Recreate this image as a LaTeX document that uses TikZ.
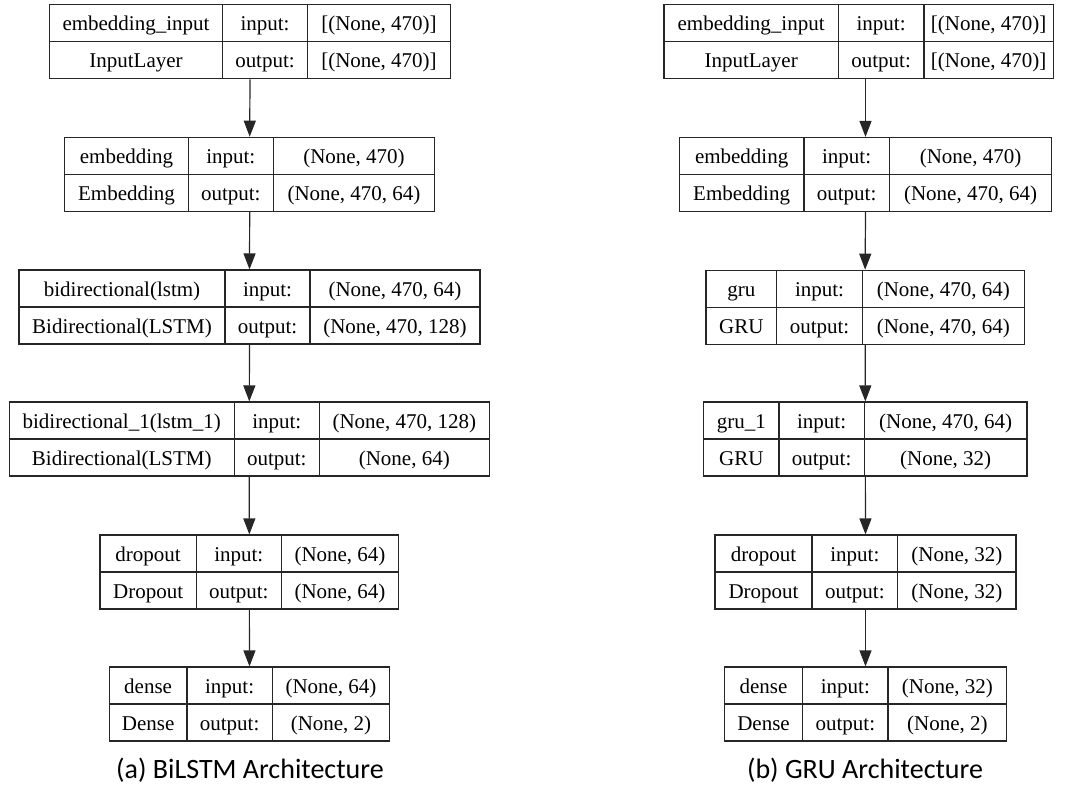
\documentclass[tikz,border=0pt]{standalone}
\usepackage{fontspec}
\setmainfont{Liberation Serif}
\newfontfamily\capfont{Carlito}
\usetikzlibrary{arrows.meta}

\tikzset{
  layerbox/.style={draw=black!85, line width=1.2pt, inner sep=0pt, minimum height=74pt},
  layerline/.style={draw=black!85, line width=1.2pt},
  cell/.style={inner sep=0pt, text height=15pt, text depth=0pt, font=\fontsize{21}{24}\selectfont},
  flow/.style={-{Triangle[length=16pt,width=12pt]}, line width=1.2pt, black!85},
  caption/.style={anchor=base, font=\capfont\fontsize{28}{32}\selectfont}
}

% layer frame: name, left, divider 1, divider 2, right, top
\newcommand{\layerframe}[6]{%
  \node[layerbox, minimum width={(#5-#2)*1pt}] (#1) at ({(#2+#5)/2},{#6+37}) {};
  \draw[layerline] (#1.west) -- (#1.east);
  \draw[layerline] (#3,#6) -- (#3,#6+74);
  \draw[layerline] (#4,#6) -- (#4,#6+74);
  \coordinate (#1-c1) at ({(#2+#3)/2},{#6+18.5});
  \coordinate (#1-c2) at ({(#3+#4)/2},{#6+18.5});
  \coordinate (#1-c3) at ({(#4+#5)/2},{#6+18.5});
}
% layer text: name, layer, class, input shape, output shape
\newcommand{\layertext}[5]{%
  \node[cell] (#1-name)   at (#1-c1) {#2};
  \node[cell] (#1-class)  at ([yshift=-37pt]#1-c1) {#3};
  \node[cell] (#1-inkey)  at (#1-c2) {input:};
  \node[cell] (#1-outkey) at ([yshift=-37pt]#1-c2) {output:};
  \node[cell] (#1-in)     at (#1-c3) {#4};
  \node[cell] (#1-out)    at ([yshift=-37pt]#1-c3) {#5};
}

\begin{document}
\begin{tikzpicture}[x=1pt, y=-1pt]
  \useasboundingbox (0,0) rectangle (1077,787);

  % (a) BiLSTM
  \layerframe{A1}{49.3}{222.7}{307.3}{450.7}{4.7}
  \layertext{A1}{embedding\_input}{InputLayer}{[(None, 470)]}{[(None, 470)]}
  \layerframe{A2}{64.7}{188.3}{273.3}{434.7}{137.3}
  \layertext{A2}{embedding}{Embedding}{(None, 470)}{(None, 470, 64)}
  \layerframe{A3}{19}{225}{310}{480}{270}
  \layertext{A3}{bidirectional(lstm)}{Bidirectional(LSTM)}{(None, 470, 64)}{(None, 470, 128)}
  \layerframe{A4}{9.3}{234.3}{319.3}{489.3}{402}
  \layertext{A4}{bidirectional\_1(lstm\_1)}{Bidirectional(LSTM)}{(None, 470, 128)}{(None, 64)}
  \layerframe{A5}{100}{196.3}{281.3}{398.7}{535}
  \layertext{A5}{dropout}{Dropout}{(None, 64)}{(None, 64)}
  \layerframe{A6}{109.3}{187}{272.3}{389.7}{667}
  \layertext{A6}{dense}{Dense}{(None, 64)}{(None, 2)}

  \draw[flow] (A1.south) -- (A2.north);
  \draw[flow] (A2.south) -- (A3.north);
  \draw[flow] (A3.south) -- (A4.north);
  \draw[flow] (A4.south) -- (A5.north);
  \draw[flow] (A5.south) -- (A6.north);
  \node[caption] (capA) at (250,778) {(a) BiLSTM Architecture};

  % (b) GRU
  \layerframe{B1}{664}{838.3}{924}{1053.3}{4.7}
  \layertext{B1}{embedding\_input}{InputLayer}{[(None, 470)]}{[(None, 470)]}
  \layerframe{B2}{679.3}{804}{889.3}{1051.7}{137.5}
  \layertext{B2}{embedding}{Embedding}{(None, 470)}{(None, 470, 64)}
  \layerframe{B3}{706}{776.7}{862.3}{1024.3}{270.3}
  \layertext{B3}{gru}{GRU}{(None, 470, 64)}{(None, 470, 64)}
  \layerframe{B4}{703.7}{779}{864.3}{1027}{402}
  \layertext{B4}{gru\_1}{GRU}{(None, 470, 64)}{(None, 32)}
  \layerframe{B5}{715}{812}{897.7}{1016}{535}
  \layertext{B5}{dropout}{Dropout}{(None, 32)}{(None, 32)}
  \layerframe{B6}{724.3}{802.7}{888}{1006.7}{667}
  \layertext{B6}{dense}{Dense}{(None, 32)}{(None, 2)}

  \draw[flow] (B1.south -| B2.north) -- (B2.north);
  \draw[flow] (B2.south) -- (B3.north);
  \draw[flow] (B3.south) -- (B4.north);
  \draw[flow] (B4.south) -- (B5.north);
  \draw[flow] (B5.south) -- (B6.north);
  \node[caption] (capB) at (865,778) {(b) GRU Architecture};
\end{tikzpicture}
\end{document}
